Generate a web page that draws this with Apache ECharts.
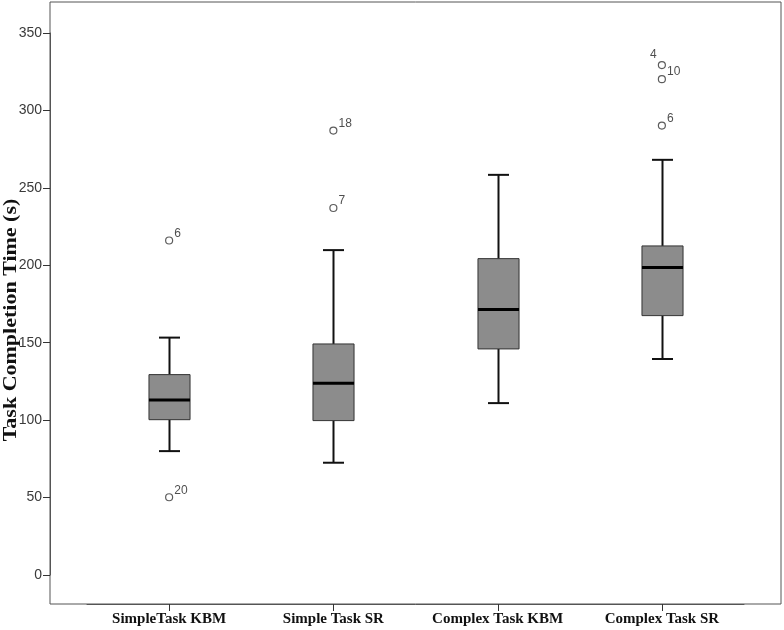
<!DOCTYPE html>
<html><head><meta charset="utf-8">
<script src="https://cdn.jsdelivr.net/npm/echarts@6/dist/echarts.min.js"></script>
<style>html,body{margin:0;padding:0;background:#fff}#c{width:784px;height:630px}</style>
</head><body><div id="c"></div>
<script>
const categories = ['SimpleTask KBM', 'Simple Task SR', 'Complex Task KBM', 'Complex Task SR'];
const whiskerLow = [80, 72.5, 111, 139.5];
const q1 = [100.3, 99.7, 146, 167.5];
const median = [113, 123.8, 171.4, 198.5];
const q3 = [129.4, 149.2, 204.3, 212.5];
const whiskerHigh = [153.3, 209.8, 258.4, 268.1];
const outlierCat = [0, 0, 1, 1, 3, 3, 3];
const outlierVal = [216, 50.2, 287, 237, 329.3, 320.2, 290.2];
const outlierId = ['6', '20', '18', '7', '4', '10', '6'];
const yTickMin = 0, yTickMax = 350, yTickStep = 50;
const yTitle = 'Task Completion Time (s)';

const X_OFFSET = 29;
const chart = echarts.init(document.getElementById('c'), null, {renderer: 'canvas'});
const boxData = categories.map((c, i) => [i, whiskerLow[i], q1[i], median[i], q3[i], whiskerHigh[i]]);
const outlierData = outlierCat.map((c, i) => ({
  value: [c, outlierVal[i]],
  label: outlierId[i] === '4' && c === 3
    ? {formatter: outlierId[i], position: 'left', distance: 1, offset: [0, -10]}
    : {formatter: outlierId[i], position: 'right', distance: 1, offset: [0, -7]}
}));

chart.setOption({
  animation: false,
  backgroundColor: '#fff',
  graphic: [{
    type: 'text', x: 11, y: 320, rotation: Math.PI / 2, scaleX: 1.1, scaleY: 0.95,
    style: {text: yTitle, align: 'center', verticalAlign: 'middle',
      font: 'bold 20px "Liberation Serif"', fill: '#111'}
  }],
  grid: [
    {left: 50, right: 3, top: 2, bottom: 26, show: true, borderColor: '#555', borderWidth: 1,
      backgroundColor: 'transparent', containLabel: false, outerBoundsMode: 'none'},
    {left: 87, right: 40, top: 33, bottom: 55, containLabel: false, outerBoundsMode: 'none'}
  ],
  xAxis: [
    {gridIndex: 0, type: 'value', show: false},
    {gridIndex: 1, type: 'category', data: categories, offset: X_OFFSET,
      axisLine: {show: true, onZero: false, lineStyle: {color: '#555', width: 1}},
      axisTick: {show: false},
      axisLabel: {interval: 0, fontFamily: 'Liberation Serif', fontWeight: 'bold', fontSize: 15, color: '#111', margin: 8},
      splitLine: {show: false}}
  ],
  yAxis: [
    {gridIndex: 0, type: 'value', show: false},
    {gridIndex: 1, type: 'value', min: yTickMin, max: yTickMax, interval: yTickStep, offset: 37,
      axisLine: {show: true, onZero: false, lineStyle: {color: '#555', width: 1}},
      axisTick: {show: true, length: 7, lineStyle: {color: '#333', width: 1}},
      axisLabel: {fontFamily: 'Liberation Sans', fontSize: 14, color: '#3a3a3a', margin: 8},
      splitLine: {show: false}}
  ],
  series: [
    {
      type: 'custom', xAxisIndex: 1, yAxisIndex: 1, data: boxData,
      encode: {x: 0, y: [1, 2, 3, 4, 5]},
      clip: false,
      renderItem: function (params, api) {
        const i = api.value(0);
        const band = api.size([1, 0])[0];
        const bw = band * 0.25, cw = band * 0.128;
        const pLo = api.coord([i, api.value(1)]);
        const pQ1 = api.coord([i, api.value(2)]);
        const pMed = api.coord([i, api.value(3)]);
        const pQ3 = api.coord([i, api.value(4)]);
        const pHi = api.coord([i, api.value(5)]);
        const cx = Math.round(pMed[0]) + 0.5;
        const axisY = params.coordSys.y + params.coordSys.height + X_OFFSET;
        const ws = {stroke: '#111', lineWidth: 2};
        return {type: 'group', children: [
          {type: 'line', shape: {x1: cx, y1: axisY, x2: cx, y2: axisY + 7}, style: {stroke: '#333', lineWidth: 1}},
          {type: 'line', shape: {x1: cx, y1: pQ1[1], x2: cx, y2: pLo[1]}, style: ws},
          {type: 'line', shape: {x1: cx, y1: pQ3[1], x2: cx, y2: pHi[1]}, style: ws},
          {type: 'line', shape: {x1: cx - cw / 2, y1: pLo[1], x2: cx + cw / 2, y2: pLo[1]}, style: ws},
          {type: 'line', shape: {x1: cx - cw / 2, y1: pHi[1], x2: cx + cw / 2, y2: pHi[1]}, style: ws},
          {type: 'rect', shape: {x: cx - bw / 2, y: pQ3[1], width: bw, height: pQ1[1] - pQ3[1]},
            style: {fill: '#8c8c8c', stroke: '#333', lineWidth: 1}},
          {type: 'line', shape: {x1: cx - bw / 2, y1: pMed[1], x2: cx + bw / 2, y2: pMed[1]},
            style: {stroke: '#000', lineWidth: 3}}
        ]};
      }
    },
    {
      type: 'scatter', xAxisIndex: 1, yAxisIndex: 1, data: outlierData,
      symbol: 'circle', symbolSize: 7,
      itemStyle: {color: '#fff', borderColor: '#333', borderWidth: 1.2},
      label: {show: true, fontFamily: 'Liberation Sans', fontSize: 12, color: '#222'}
    }
  ]
});
</script>
</body></html>
